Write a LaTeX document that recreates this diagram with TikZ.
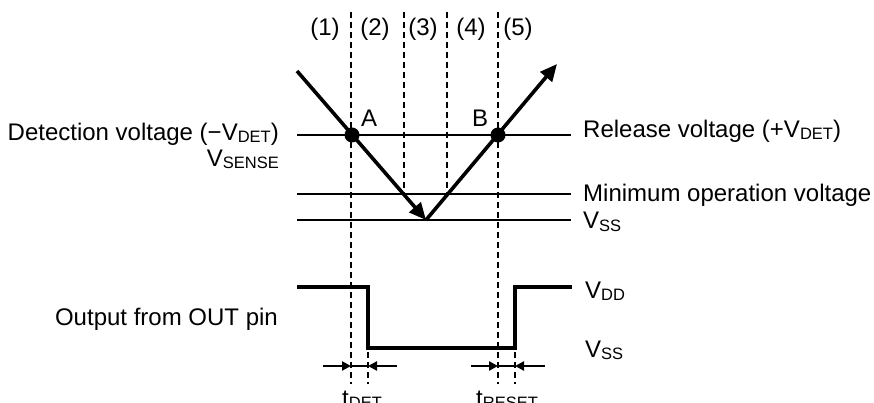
\documentclass[tikz,border=0pt]{standalone}
\usepackage{fontspec}
\setmainfont{Liberation Sans}
\usetikzlibrary{arrows.meta}
\newcommand\sbs[1]{\raisebox{-2pt}{\fontsize{16.5}{16.5}\selectfont #1}}
\begin{document}
\begin{tikzpicture}[x=1pt,y=-1pt,
  hline/.style={line width=2.2pt},
  wline/.style={line width=3.4pt, line join=miter},
  dline/.style={line width=1.6pt, dash pattern=on 6pt off 4pt},
  lbl/.style={inner sep=0pt, font=\fontsize{24}{24}\selectfont},
  bigarrow/.style={line width=3.6pt, -{Triangle[length=17pt,width=15pt]}},
  tickarrow/.style={line width=2.4pt, -{Triangle[length=9pt,width=9pt]}},
  dotnode/.style={circle, fill, inner sep=0pt, minimum size=15pt}]
\useasboundingbox (0,0) rectangle (874,403);

% horizontal reference lines
\coordinate (detL) at (297,135); \coordinate (detR) at (571,135);
\coordinate (minL) at (297,194); \coordinate (minR) at (571,194);
\coordinate (vssL) at (297,220); \coordinate (vssR) at (571,220);
\draw[hline] (detL) -- (detR);
\draw[hline] (minL) -- (minR);
\draw[hline] (vssL) -- (vssR);

% dashed region separators
\coordinate (d1t) at (351,12);  \coordinate (d1b) at (351,384);
\coordinate (d2t) at (404,12);  \coordinate (d2b) at (404,194);
\coordinate (d3t) at (447,12);  \coordinate (d3b) at (447,194);
\coordinate (d4t) at (498,12);  \coordinate (d4b) at (498,384);
\coordinate (d5t) at (368,352); \coordinate (d5b) at (368,384);
\coordinate (d6t) at (515,352); \coordinate (d6b) at (515,384);
\draw[dline] (d1t) -- (d1b);
\draw[dline] (d2t) -- (d2b);
\draw[dline] (d3t) -- (d3b);
\draw[dline] (d4t) -- (d4b);
\draw[dline] (d5t) -- (d5b);
\draw[dline] (d6t) -- (d6b);

% V_SENSE trajectory
\coordinate (vs0) at (297,71);
\coordinate (vsmin) at (426,220);
\coordinate (vs1) at (557,64);
\draw[bigarrow] (vs0) -- (vsmin);
\draw[bigarrow] (vsmin) -- (vs1);
\node[dotnode] (A) at (352,135) {};
\node[dotnode] (B) at (498,135) {};
\node[lbl, anchor=base] (Alab) at (369,127) {A};
\node[lbl, anchor=base] (Blab) at (480,127) {B};

% output waveform
\coordinate (w0) at (297,287);
\coordinate (w1) at (368,287);
\coordinate (w2) at (368,348);
\coordinate (w3) at (515,348);
\coordinate (w4) at (515,287);
\coordinate (w5) at (572,287);
\draw[wline] (w0) -- (w1) -- (w2) -- (w3) -- (w4) -- (w5);

% delay arrows
\coordinate (ta0) at (323,366); \coordinate (ta1) at (351,366);
\coordinate (ta2) at (368,366); \coordinate (ta3) at (397,366);
\coordinate (tb0) at (471,366); \coordinate (tb1) at (498,366);
\coordinate (tb2) at (515,366); \coordinate (tb3) at (545,366);
\draw[tickarrow] (ta0) -- (ta1);
\draw[hline] (ta1) -- (ta2);
\draw[tickarrow] (ta3) -- (ta2);
\draw[tickarrow] (tb0) -- (tb1);
\draw[hline] (tb1) -- (tb2);
\draw[tickarrow] (tb3) -- (tb2);

% region labels
\node[lbl, anchor=base] (r1) at (325,36) {(1)};
\node[lbl, anchor=base] (r2) at (375,36) {(2)};
\node[lbl, anchor=base] (r3) at (423,36) {(3)};
\node[lbl, anchor=base] (r4) at (471,36) {(4)};
\node[lbl, anchor=base] (r5) at (518,36) {(5)};

% left labels
\node[lbl, anchor=base east] (detlab) at (279,141) {Detection voltage (\textminus V\sbs{DET})};
\node[lbl, anchor=base east] (vsense) at (279,167) {V\sbs{SENSE}};
\node[lbl, anchor=base east] (outlab) at (278,325) {Output from OUT pin};

% right labels
\node[lbl, anchor=base west] (rellab) at (583,138) {Release voltage (+V\sbs{DET})};
\node[lbl, anchor=base west] (minlab) at (583,201) {Minimum operation voltage};
\node[lbl, anchor=base west] (vsslab) at (583,229) {V\sbs{SS}};
\node[lbl, anchor=base west] (vddlab) at (585,298) {V\sbs{DD}};
\node[lbl, anchor=base west] (vss2lab) at (585,357) {V\sbs{SS}};

% delay labels
\node[lbl, anchor=base west] (tdet) at (342,406) {t\sbs{DET}};
\node[lbl, anchor=base west] (treset) at (476,406) {t\sbs{RESET}};
\end{tikzpicture}
\end{document}
